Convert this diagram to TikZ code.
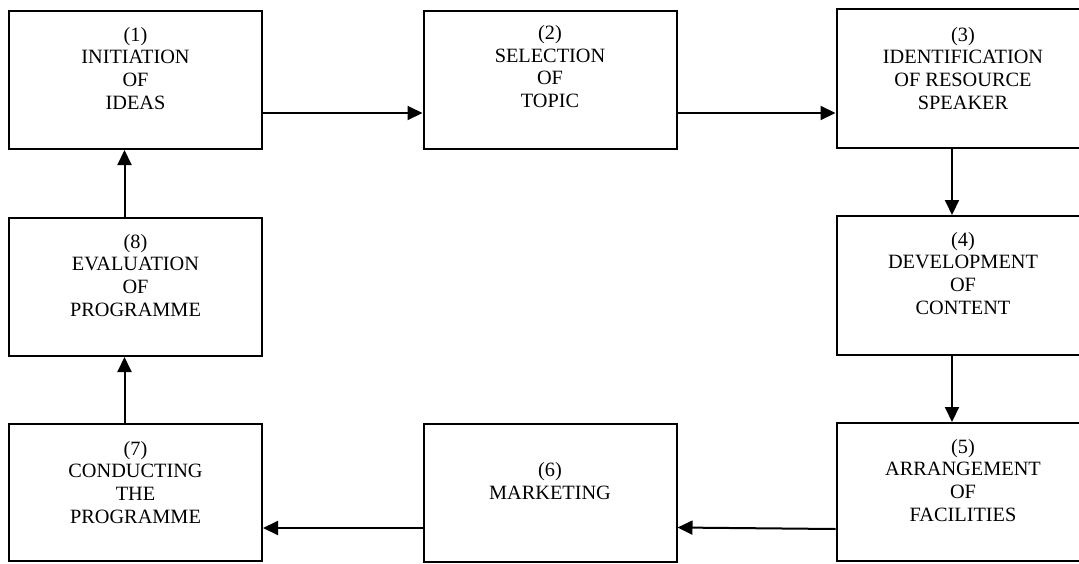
\documentclass[tikz,border=0pt]{standalone}
\usepackage{fontspec}
\setmainfont{Liberation Serif}
\usetikzlibrary{arrows.meta, positioning}

\begin{document}
\begin{tikzpicture}[x=1pt, y=-1pt,
    stage/.style={draw, line width=2pt, minimum width=253pt, minimum height=138pt, inner sep=0pt},
    boxtext/.style={anchor=north, align=center, inner sep=0pt, font=\fontsize{20.3}{22.6}\selectfont},
    flow/.style={line width=2pt, -{Triangle[length=15pt, width=14pt]}}]
    \useasboundingbox[fill=white] (0,0) rectangle (1079,563);
    \clip (0,0) rectangle (1079,563);
    % boxes
    \node[stage] (b1) at (135.5,80) {};
    \node[stage] (b2) at (550,79.5) {};
    \node[stage, minimum height=139pt] (b3) at (963,78.5) {};
    \node[stage, minimum height=139pt] (b4) at (963,285.5) {};
    \node[stage] (b5) at (963,492) {};
    \node[stage] (b6) at (550,492.5) {};
    \node[stage, minimum height=137pt] (b7) at (135.5,492.5) {};
    \node[stage] (b8) at (135.5,287) {};
    % texts
    \node[boxtext] (t1) at ([yshift=-17pt]b1.north) {(1)\\INITIATION\\OF\\IDEAS};
    \node[boxtext] (t2) at ([yshift=-16pt]b2.north) {(2)\\SELECTION\\OF\\TOPIC};
    \node[boxtext] (t3) at ([yshift=-19pt]b3.north) {(3)\\IDENTIFICATION\\OF RESOURCE\\SPEAKER};
    \node[boxtext] (t4) at ([yshift=-17pt]b4.north) {(4)\\DEVELOPMENT\\OF\\CONTENT};
    \node[boxtext] (t5) at ([yshift=-17pt]b5.north) {(5)\\ARRANGEMENT\\OF\\FACILITIES};
    \node[boxtext] (t6) at ([yshift=-40pt]b6.north) {(6)\\MARKETING};
    \node[boxtext] (t7) at ([yshift=-18pt]b7.north) {(7)\\CONDUCTING\\THE\\PROGRAMME};
    \node[boxtext] (t8) at ([yshift=-17pt]b8.north) {(8)\\EVALUATION\\OF\\PROGRAMME};
    % arrows
    \draw[flow] ([yshift=-33pt]b1.east) -- ([yshift=-33pt]b1.east -| b2.west);
    \draw[flow] ([yshift=-33.5pt]b2.east) -- ([yshift=-33.5pt]b2.east -| b3.west);
    \draw[flow] ([xshift=-11pt]b3.south) -- ([xshift=-11pt]b3.south |- b4.north);
    \draw[flow] ([xshift=-11pt]b4.south) -- ([xshift=-11pt]b4.south |- b5.north);
    \draw[flow] ([yshift=-37pt]b5.west) -- ([yshift=-35pt]b6.east);
    \draw[flow] ([yshift=-35.5pt]b6.west) -- ([yshift=-35.5pt]b6.west -| b7.east);
    \draw[flow] ([xshift=-11pt]b7.north) -- ([xshift=-11pt]b7.north |- b8.south);
    \draw[flow] ([xshift=-11pt]b8.north) -- ([xshift=-11pt]b8.north |- b1.south);
\end{tikzpicture}
\end{document}
